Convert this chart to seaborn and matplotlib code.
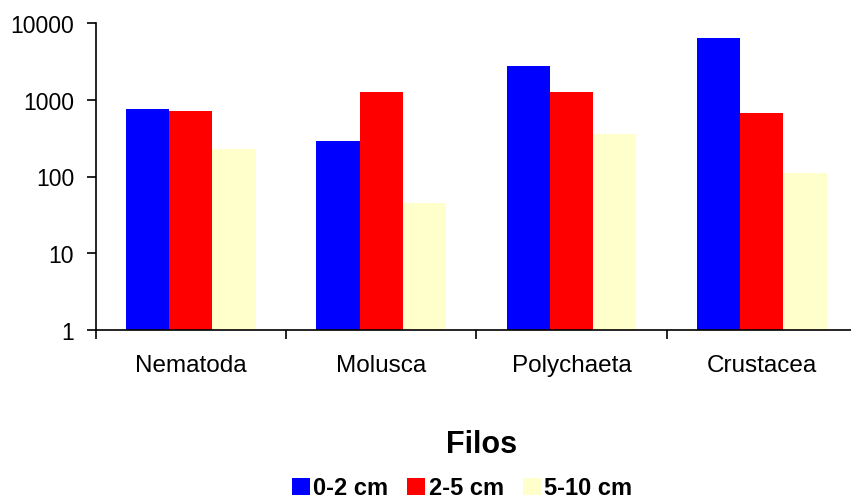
import matplotlib
matplotlib.use("Agg")
import matplotlib.pyplot as plt
import matplotlib.ticker as mticker
from matplotlib.patches import Patch
import seaborn as sns
import pandas as pd

categories = ["Nematoda", "Molusca", "Polychaeta", "Crustacea"]
series = ["0-2 cm", "2-5 cm", "5-10 cm"]
vals_0_2 = [764, 290, 2780, 6440]
vals_2_5 = [720, 1260, 1260, 679]
vals_5_10 = [230, 45, 361, 111]
colors = ["#0000FF", "#FF0000", "#FFFFCC"]
yticks = [1, 10, 100, 1000, 10000]

rows = []
for s, vals in zip(series, [vals_0_2, vals_2_5, vals_5_10]):
    for c, v in zip(categories, vals):
        rows.append({"Filo": c, "Prof": s, "Valor": v})
df = pd.DataFrame(rows)

sns.set_theme(style="white")
plt.rcParams["font.family"] = ["Liberation Sans", "DejaVu Sans"]
plt.rcParams["text.color"] = "black"
plt.rcParams["xtick.color"] = "black"
plt.rcParams["ytick.color"] = "black"
plt.rcParams["axes.labelcolor"] = "black"

fig = plt.figure(figsize=(8.51, 5.02), dpi=100)
fig.patch.set_facecolor("white")
ax = fig.add_axes([95.7 / 851, 171 / 502, (857 - 95.7) / 851, 307 / 502])
ax.set_yscale("log")
sns.barplot(data=df, x="Filo", y="Valor", hue="Prof", order=categories,
            hue_order=series, palette=colors, width=0.68, gap=0,
            saturation=1, ax=ax, legend=False, linewidth=0)

ax.set_ylim(1, 10000)
ax.set_xlim(-0.5, 3.5)
ax.yaxis.set_major_locator(mticker.FixedLocator(yticks))
ax.yaxis.set_minor_locator(mticker.NullLocator())
ax.yaxis.set_major_formatter(mticker.FuncFormatter(lambda v, p: f"{int(round(v))}"))
ax.tick_params(axis="y", which="major", direction="out", length=6.5, width=1.2,
               color="black", labelsize=16.5, pad=9, left=True, labelcolor="black")
ax.set_xticks(range(len(categories)))
ax.set_xticklabels(categories)
ax.set_xticks([-0.5, 0.5, 1.5, 2.5], minor=True)
ax.tick_params(axis="x", which="major", length=0, labelsize=17.5, pad=17,
               labelcolor="black")
ax.tick_params(axis="x", which="minor", direction="out", length=6.5, width=1.2,
               color="black", bottom=True)
for sp in ["top", "right"]:
    ax.spines[sp].set_visible(False)
for sp in ["left", "bottom"]:
    ax.spines[sp].set_color("black")
    ax.spines[sp].set_linewidth(1.2)
ax.set_xlabel("")
ax.set_ylabel("")
ax.set_facecolor("white")

fig.text(482 / 851, 1 - 445 / 502, "Filos", ha="center", va="center",
         fontsize=22, fontweight="bold", color="black")

handles = [Patch(facecolor=c, edgecolor="none", label=s) for c, s in zip(colors, series)]
leg = fig.legend(handles=handles, loc="center", bbox_to_anchor=(462 / 851, 1 - 489 / 502),
                 ncol=3, frameon=False, handlelength=0.76, handleheight=0.72,
                 handletextpad=0.15, columnspacing=0.8, borderpad=0, borderaxespad=0,
                 prop={"size": 17, "weight": "bold"})
for t in leg.get_texts():
    t.set_color("black")

fig.savefig("out.png", dpi=100, facecolor="white")
